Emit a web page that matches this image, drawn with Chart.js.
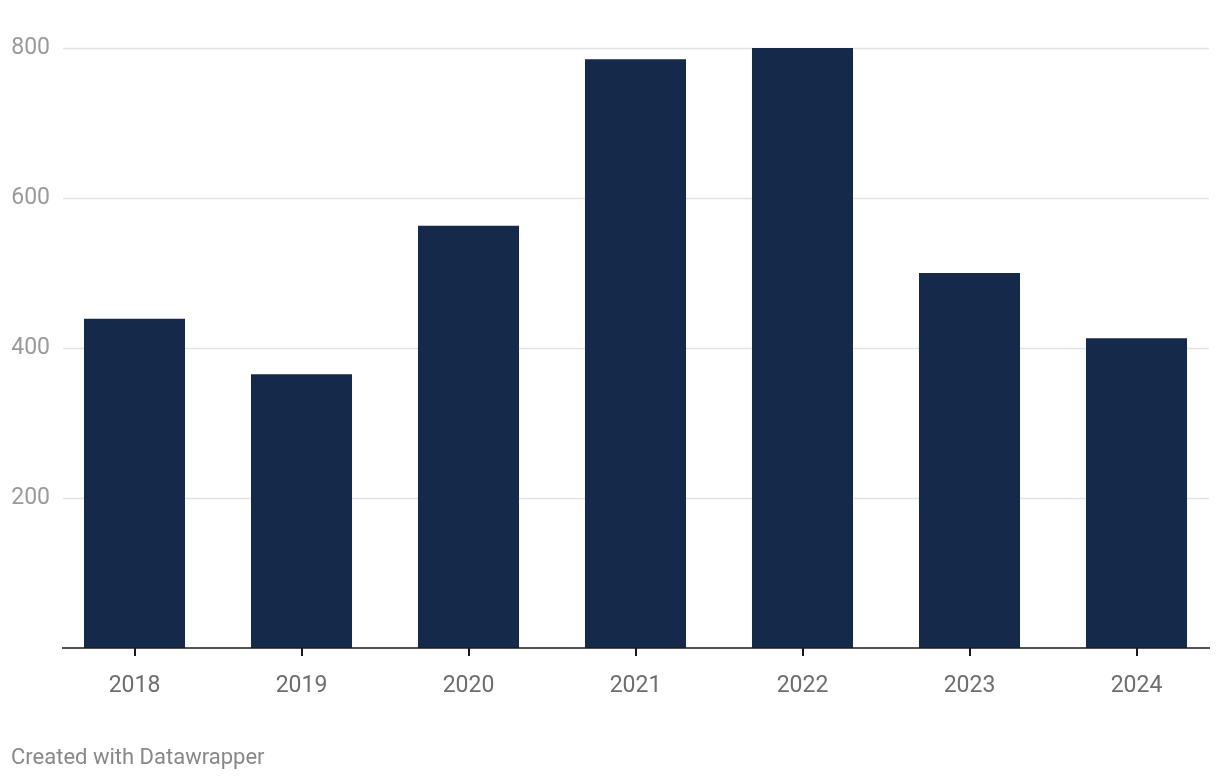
<!DOCTYPE html>
<html>
<head>
<meta charset="utf-8">
<script src="https://cdn.jsdelivr.net/npm/chart.js@4/dist/chart.umd.min.js"></script>
<style>
  html, body { margin: 0; padding: 0; background: #fff; }
  #wrap { position: relative; width: 1220px; height: 780px; }
  #footer { position: absolute; left: 11px; top: 744px; font-family: Roboto, sans-serif; font-size: 22px; color: #888; }
</style>
</head>
<body>
<div id="wrap">
  <canvas id="c" width="1220" height="780"></canvas>
  <div id="footer">Created with Datawrapper</div>
</div>
<script>
const categories = ["2018", "2019", "2020", "2021", "2022", "2023", "2024"];
const values = [439, 365, 563, 785, 800, 500, 413];
const yTicks = [200, 400, 600, 800];

const gridPlugin = {
  id: 'dwGrid',
  beforeDatasetsDraw(chart) {
    const ctx = chart.ctx, y = chart.scales.y;
    ctx.save();
    ctx.strokeStyle = '#e3e3e3';
    ctx.lineWidth = 1.5;
    yTicks.forEach(v => {
      const py = Math.round(y.getPixelForValue(v)) + 0.5;
      ctx.beginPath(); ctx.moveTo(63, py); ctx.lineTo(1209, py); ctx.stroke();
    });
    ctx.restore();
  },
  afterDatasetsDraw(chart) {
    const ctx = chart.ctx, y = chart.scales.y;
    const py = y.getPixelForValue(0);
    ctx.save();
    ctx.strokeStyle = '#1a1a1a';
    ctx.lineWidth = 1.5;
    ctx.beginPath(); ctx.moveTo(62, py); ctx.lineTo(1210, py); ctx.stroke();
    ctx.restore();
  }
};

new Chart(document.getElementById('c'), {
  type: 'bar',
  data: {
    labels: categories,
    datasets: [{
      data: values,
      backgroundColor: '#15294b',
      barPercentage: 0.605,
      categoryPercentage: 1.0
    }]
  },
  options: {
    responsive: false,
    animation: false,
    devicePixelRatio: 1,
    layout: { padding: { top: 48, right: 0, bottom: 0, left: 0 } },
    plugins: { legend: { display: false }, tooltip: { enabled: false }, title: { display: false } },
    scales: {
      x: {
        offset: true,
        grid: { display: true, drawOnChartArea: false, drawTicks: true, tickLength: 8, color: '#1a1a1a', lineWidth: 2, offset: false },
        border: { display: false },
        ticks: { color: '#6e6e6e', font: { family: 'Roboto', size: 23 }, padding: 16, maxRotation: 0 },
        afterFit(scale) { scale.height = 132; }
      },
      y: {
        min: 0, max: 800,
        grid: { display: false, drawTicks: false },
        border: { display: false },
        ticks: {
          stepSize: 200,
          color: '#9a9a9a',
          font: { family: 'Roboto', size: 23 },
          padding: 1,
          callback: (v) => (yTicks.includes(v) ? String(v) : '')
        },
        afterFit(scale) { scale.width = 51; }
      }
    }
  },
  plugins: [gridPlugin]
});
</script>
</body>
</html>
